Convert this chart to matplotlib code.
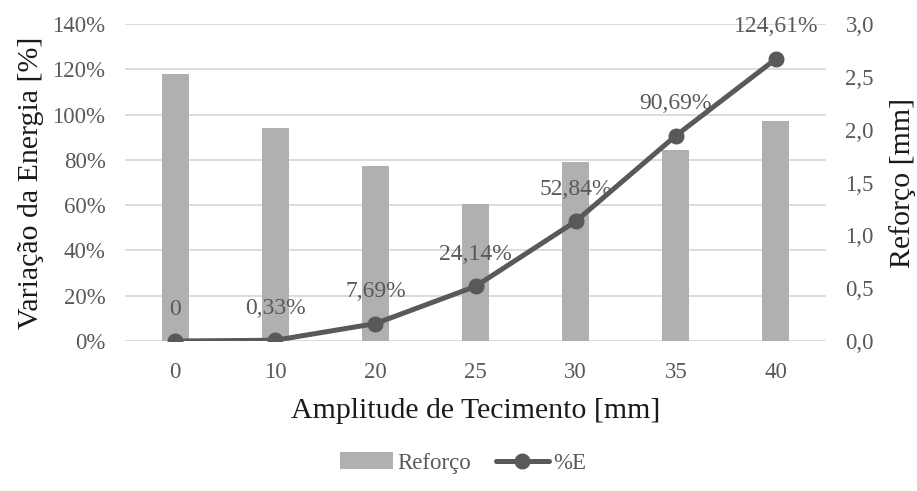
import matplotlib
matplotlib.use("Agg")
import matplotlib.pyplot as plt
from matplotlib.ticker import FuncFormatter, MultipleLocator

plt.rcParams['font.family'] = ['Liberation Serif', 'DejaVu Serif']

amplitudes = ['0', '10', '20', '25', '30', '35', '40']
reforco_mm = [2.53, 2.02, 1.66, 1.30, 1.69, 1.81, 2.08]
energia_pct = [0.0, 0.33, 7.69, 24.14, 52.84, 90.69, 124.61]
energia_labels = ['0', '0,33%', '7,69%', '24,14%', '52,84%', '90,69%', '124,61%']

bar_color = '#b0b0b0'
line_color = '#595959'
tick_color = '#595959'
grid_color = '#d9d9d9'
title_color = '#1a1a1a'

fig = plt.figure(figsize=(9.17, 4.91), dpi=100)
ax = fig.add_axes([0.1363, 0.3055, 0.7645, 0.6455])
ax2 = ax.twinx()

x = list(range(len(amplitudes)))

# Reforço bars on the right axis
ax2.bar(x, reforco_mm, width=0.27, color=bar_color, zorder=2, label='Reforço')
ax2.set_ylim(0, 3.0)
ax2.yaxis.set_major_locator(MultipleLocator(0.5))
ax2.yaxis.set_major_formatter(FuncFormatter(lambda v, p: f'{v:.1f}'.replace('.', ',')))

# Energy variation line on the left axis, drawn above the bars
ax.set_zorder(ax2.get_zorder() + 1)
ax.patch.set_visible(False)
ax.plot(x, energia_pct, color=line_color, lw=3.6, marker='o', ms=10.5,
        zorder=3, label='%E', solid_capstyle='round')
ax.set_ylim(0, 140)
ax.yaxis.set_major_locator(MultipleLocator(20))
ax.yaxis.set_major_formatter(FuncFormatter(lambda v, p: f'{v:.0f}%'))
ax.set_xlim(-0.5, len(x) - 0.5)
ax.set_xticks(x)
ax.set_xticklabels(amplitudes)

for xi, yi, lab in zip(x, energia_pct, energia_labels):
    ax.annotate(lab, (xi, yi), xytext=(0, 23), textcoords='offset points',
                ha='center', va='center', fontsize=17, color=tick_color, zorder=4)

# Gridlines from the left scale (both scales share positions)
for v in range(0, 141, 20):
    ax2.axhline(v / 140 * 3.0, color=grid_color, lw=1.3, zorder=1)

for a in (ax, ax2):
    for s in a.spines.values():
        s.set_visible(False)
    a.tick_params(length=0, labelsize=16.5, labelcolor=tick_color)
ax.tick_params(axis='y', pad=14)
ax2.tick_params(axis='y', pad=14)
ax.tick_params(axis='x', pad=15)

ax.set_xlabel('Amplitude de Tecimento [mm]', fontsize=21.5, color=title_color, labelpad=11)
ax.set_ylabel('Variação da Energia [%]', fontsize=21.5, color=title_color, labelpad=6)
ax2.set_ylabel('Reforço [mm]', fontsize=21.5, color=title_color, labelpad=11)

h2, l2 = ax2.get_legend_handles_labels()
h1, l1 = ax.get_legend_handles_labels()
leg = fig.legend(h2 + h1, l2 + l1, loc='center', bbox_to_anchor=(0.505, 0.057),
                 ncol=2, frameon=False, fontsize=16.5, handlelength=2.3,
                 columnspacing=1.1, handletextpad=0.2)
for t in leg.get_texts():
    t.set_color(tick_color)

fig.savefig('out.png', dpi=100)
